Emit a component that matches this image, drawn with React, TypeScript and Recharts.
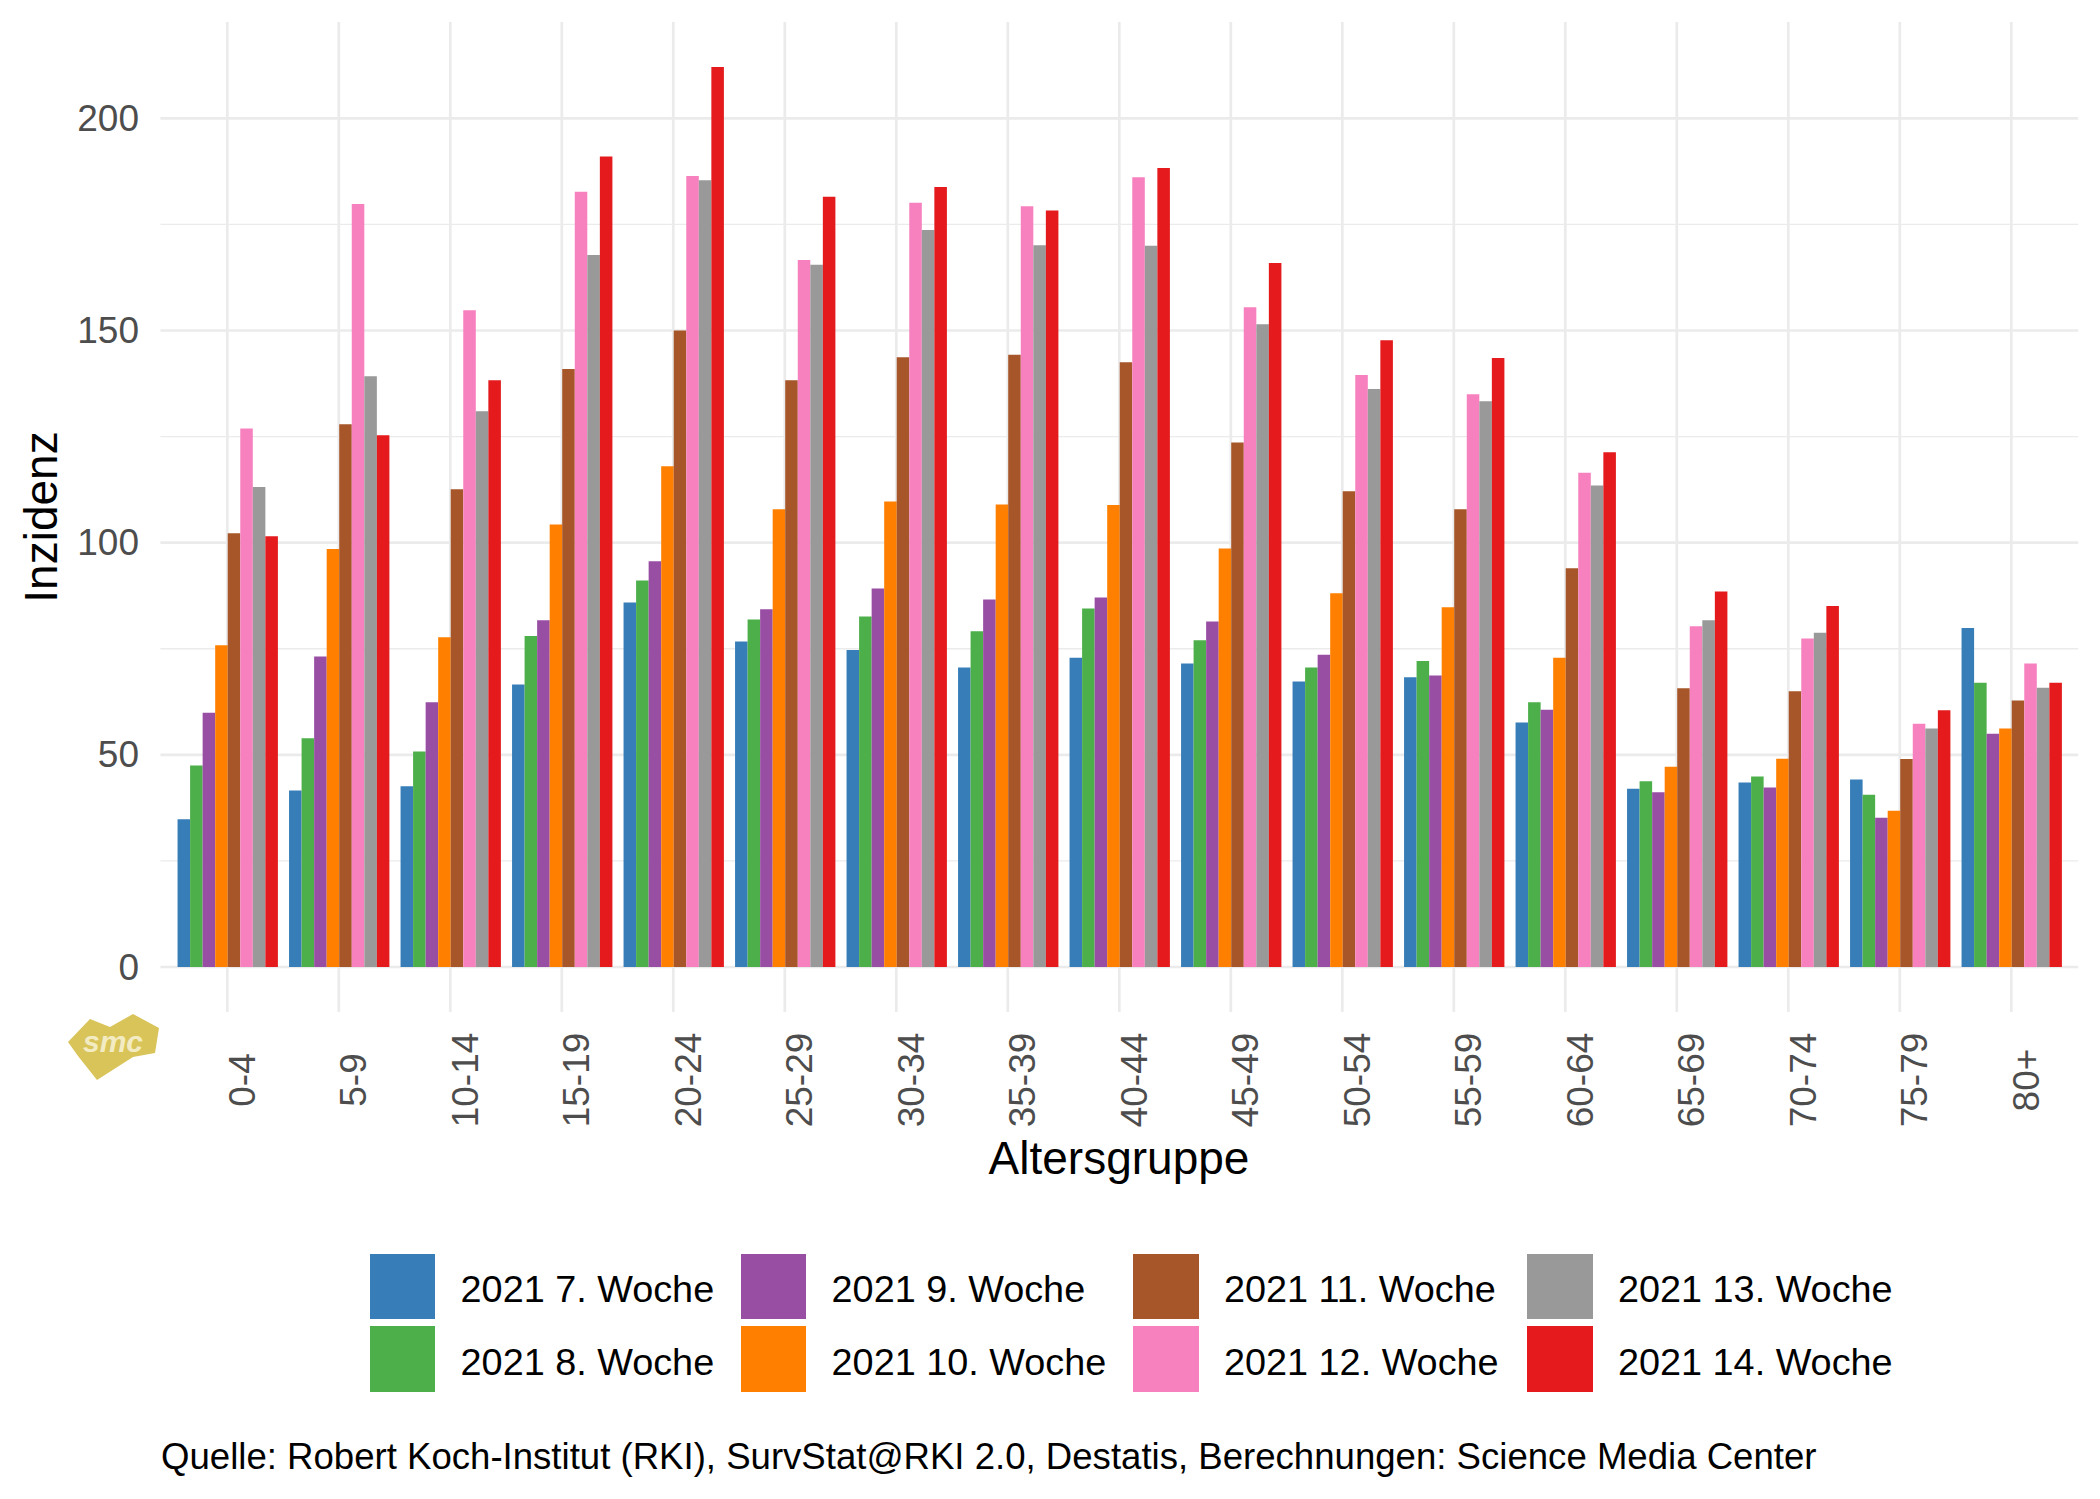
import React from 'react';
import { BarChart, Bar, XAxis, YAxis, CartesianGrid } from 'recharts';

const ageGroups = ['0-4', '5-9', '10-14', '15-19', '20-24', '25-29', '30-34', '35-39', '40-44', '45-49', '50-54', '55-59', '60-64', '65-69', '70-74', '75-79', '80+'];

const week7 = [34.8, 41.6, 42.6, 66.6, 85.9, 76.7, 74.7, 70.6, 72.9, 71.5, 67.3, 68.3, 57.6, 42.0, 43.5, 44.2, 79.9];
const week8 = [47.5, 53.9, 50.8, 78.0, 91.1, 81.9, 82.6, 79.1, 84.5, 77.0, 70.6, 72.1, 62.4, 43.8, 44.9, 40.6, 67.0];
const week9 = [59.9, 73.2, 62.4, 81.7, 95.6, 84.3, 89.2, 86.6, 87.1, 81.4, 73.6, 68.7, 60.6, 41.2, 42.3, 35.2, 55.0];
const week10 = [75.8, 98.5, 77.7, 104.3, 118.0, 107.9, 109.7, 109.0, 108.9, 98.6, 88.1, 84.8, 72.9, 47.2, 49.1, 36.8, 56.2];
const week11 = [102.2, 127.9, 112.6, 140.9, 150.0, 138.3, 143.7, 144.3, 142.5, 123.6, 112.1, 107.9, 94.0, 65.7, 65.0, 49.0, 62.8];
const week12 = [126.9, 179.8, 154.8, 182.7, 186.4, 166.6, 180.1, 179.3, 186.1, 155.5, 139.5, 135.0, 116.5, 80.3, 77.4, 57.3, 71.5];
const week13 = [113.1, 139.2, 131.0, 167.8, 185.4, 165.5, 173.7, 170.1, 170.0, 151.5, 136.2, 133.3, 113.5, 81.7, 78.8, 56.2, 65.8];
const week14 = [101.5, 125.3, 138.3, 191.0, 212.1, 181.5, 183.8, 178.3, 188.3, 165.9, 147.7, 143.5, 121.3, 88.5, 85.1, 60.5, 67.0];

const seriesKeys = ['w7', 'w8', 'w9', 'w10', 'w11', 'w12', 'w13', 'w14'];
const seriesNames = ['2021 7. Woche', '2021 8. Woche', '2021 9. Woche', '2021 10. Woche', '2021 11. Woche', '2021 12. Woche', '2021 13. Woche', '2021 14. Woche'];
const seriesColors = ['#377EB8', '#4DAF4A', '#984EA3', '#FF7F00', '#A65628', '#F781BF', '#999999', '#E41A1C'];
const seriesValues = [week7, week8, week9, week10, week11, week12, week13, week14];

const yTicks = [0, 50, 100, 150, 200];
const yMinorTicks = [25, 75, 125, 175];

const xTitle = 'Altersgruppe';
const yTitle = 'Inzidenz';
const caption = 'Quelle: Robert Koch-Institut (RKI), SurvStat@RKI 2.0, Destatis, Berechnungen: Science Media Center';

const rows = ageGroups.map((group, i) => {
  const row: Record<string, string | number> = { group };
  seriesKeys.forEach((k, s) => {
    row[k] = seriesValues[s][i];
  });
  return row;
});

const FONT = '"Liberation Sans", Arial, sans-serif';
const band = 111.5;
const barSize = (band * 0.9) / 8;

// rotated category labels, centred on their own length like ggplot's angle = 90
const XTick = (props: any) => {
  const { x, y, payload } = props;
  const cx = x + 15;
  const cy = y + 68;
  return (
    <text
      x={cx}
      y={cy}
      transform={`rotate(-90 ${cx} ${cy})`}
      textAnchor="middle"
      dominantBaseline="central"
      fontSize={37}
      fontFamily={FONT}
      fill="#4D4D4D"
    >
      {payload.value}
    </text>
  );
};

const YTick = (props: any) => {
  const { y, payload } = props;
  return (
    <text x={139} y={y} textAnchor="end" dominantBaseline="central" fontSize={37} fontFamily={FONT} fill="#4D4D4D">
      {payload.value}
    </text>
  );
};

const legendCols = [369.6, 740.6, 1133, 1527];
const legendRows = [1253.6, 1326];
const keySize = 65.6;

export default function App() {
  return (
    <div style={{ position: 'absolute', left: 0, top: 0, width: 2100, height: 1499, background: '#fff', fontFamily: FONT }}>
      <BarChart
        width={2100}
        height={1499}
        data={rows}
        margin={{ top: 22, right: 21.8, bottom: 0, left: 0 }}
        barGap={0}
        barSize={barSize}
      >
        <CartesianGrid stroke="#EBEBEB" strokeWidth={1.35} vertical={false} horizontalValues={yMinorTicks} syncWithTicks />
        <CartesianGrid stroke="#EBEBEB" strokeWidth={2.7} syncWithTicks />
        <XAxis
          dataKey="group"
          type="category"
          interval={0}
          padding={{ left: 11.15, right: 11.15 }}
          axisLine={false}
          tickLine={false}
          tickSize={0}
          tickMargin={0}
          height={487}
          tick={<XTick />}
        />
        <YAxis
          type="number"
          domain={[-10.6, 222.7]}
          ticks={yTicks}
          allowDataOverflow
          width={160.4}
          axisLine={false}
          tickLine={false}
          tick={<YTick />}
        />
        {seriesKeys.map((k, s) => (
          <Bar key={k} dataKey={k} name={seriesNames[s]} fill={seriesColors[s]} isAnimationActive={false} />
        ))}
      </BarChart>

      <div
        style={{
          position: 'absolute',
          left: 41,
          top: 517,
          transform: 'translate(-50%, -50%) rotate(-90deg)',
          fontSize: 46,
          lineHeight: 1,
          whiteSpace: 'nowrap',
          color: '#000',
        }}
      >
        {yTitle}
      </div>

      <div
        style={{
          position: 'absolute',
          left: 1119,
          top: 1158,
          transform: 'translate(-50%, -50%)',
          fontSize: 46,
          lineHeight: 1,
          whiteSpace: 'nowrap',
          color: '#000',
        }}
      >
        {xTitle}
      </div>

      {/* smc logo */}
      <svg style={{ position: 'absolute', left: 0, top: 0 }} width={200} height={1100} viewBox="0 0 200 1100">
        <polygon
          points="68,1042 90,1019 110,1027 133,1014 159,1028 155,1053 133,1057 97,1080 78,1056"
          fill="#D9C45A"
        />
        <text x={113} y={1052} textAnchor="middle" fontSize={30} fontWeight="bold" fontStyle="italic" fill="#F3EBC2" fontFamily={FONT}>
          smc
        </text>
      </svg>

      {seriesNames.map((name, i) => {
        const col = Math.floor(i / 2);
        const row = i % 2;
        const left = legendCols[col];
        const top = legendRows[row];
        return (
          <React.Fragment key={name}>
            <div style={{ position: 'absolute', left, top, width: keySize, height: keySize, background: seriesColors[i] }} />
            <div
              style={{
                position: 'absolute',
                left: left + 91,
                top: top + keySize / 2 + 4,
                transform: 'translateY(-50%)',
                fontSize: 37.8,
                lineHeight: 1,
                whiteSpace: 'nowrap',
                color: '#000',
              }}
            >
              {name}
            </div>
          </React.Fragment>
        );
      })}

      <div
        style={{
          position: 'absolute',
          left: 161,
          top: 1457,
          transform: 'translateY(-50%)',
          fontSize: 36.6,
          lineHeight: 1,
          whiteSpace: 'nowrap',
          color: '#000',
        }}
      >
        {caption}
      </div>
    </div>
  );
}
